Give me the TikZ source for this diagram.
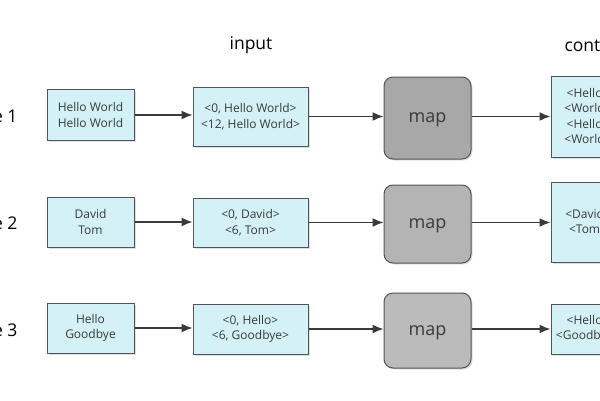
\documentclass[tikz,border=0pt]{standalone}
\usepackage{fontspec}
\setmainfont{Open Sans}
\usetikzlibrary{arrows.meta,shadows}
\definecolor{boxfill}{HTML}{D3F1F6}
\definecolor{edgegray}{HTML}{4F5558}
\definecolor{txtgray}{HTML}{3A3A3A}
\definecolor{mapdark}{HTML}{A8A8A8}
\definecolor{mapmid}{HTML}{B4B4B4}
\definecolor{maplight}{HTML}{BBBBBB}
\begin{document}
\begin{tikzpicture}[x=1pt,y=-1pt,
    databox/.style={draw=edgegray, line width=1pt, fill=boxfill, align=center,
        text=txtgray, inner sep=0pt, font=\fontsize{12}{15.5}\selectfont,
        drop shadow={shadow xshift=1.5pt, shadow yshift=-1.5pt, opacity=.25}},
    mapbox/.style={draw=edgegray, line width=1pt, rounded corners=9pt,
        text=txtgray, inner sep=0pt, minimum width=87pt, text depth=0pt,
        font=\fontsize{18}{20}\selectfont,
        drop shadow={shadow xshift=1.5pt, shadow yshift=-1.5pt, opacity=.25}},
    heading/.style={font=\fontsize{17.5}{20}\selectfont, text=black},
    flow/.style={-{Latex[length=11pt,width=9pt]}, line width=1.5pt, draw=txtgray}]
    \clip (0,0) rectangle (600,400);
    \fill[white] (0,0) rectangle (600,400);
    % headings
    \node[heading] (input) at (251,45) {input};
    \node[heading, anchor=west] (context) at (561,46) {context};
    \node[heading, anchor=east] (file1) at (21,116) {File 1};
    \node[heading, anchor=east] (file2) at (21,223) {File 2};
    \node[heading, anchor=east] (file3) at (21,330) {File 3};
    % row 1
    \node[databox, minimum width=87pt, minimum height=51pt] (text1) at (90.5,115) {Hello World\\Hello World};
    \node[databox, minimum width=115pt, minimum height=59pt] (pair1) at (250.5,116.5) {<0, Hello World>\\<12, Hello World>};
    \node[mapbox, fill=mapdark, minimum height=82pt] (map1) at (427.5,118) {map};
    \node[databox, minimum width=87pt, minimum height=81pt] (out1) at (594.5,116.5) {<Hello, 1>\\<World, 1>\\<Hello, 1>\\<World, 1>};
    % row 2
    \node[databox, minimum width=87pt, minimum height=50pt] (text2) at (90.5,222) {David\\Tom};
    \node[databox, minimum width=115pt, minimum height=49pt] (pair2) at (250.5,222.5) {<0, David>\\<6, Tom>};
    \node[mapbox, fill=mapmid, minimum height=78pt] (map2) at (427.5,224) {map};
    \node[databox, minimum width=87pt, minimum height=80pt] (out2) at (594.5,222) {<David, 1>\\<Tom, 1>};
    % row 3
    \node[databox, minimum width=87pt, minimum height=50pt] (text3) at (90.5,328) {Hello\\Goodbye};
    \node[databox, minimum width=115pt, minimum height=50pt] (pair3) at (250.5,329) {<0, Hello>\\<6, Goodbye>};
    \node[mapbox, fill=maplight, minimum height=75pt] (map3) at (427.5,330.5) {map};
    \node[databox, minimum width=87pt, minimum height=50pt] (out3) at (594.5,329) {<Hello, 1>\\<Goodbye, 1>};
    % arrows
    \draw[flow] (text1.east) -- (text1.east -| pair1.west);
    \draw[flow] (pair1.east) -- (pair1.east -| map1.west);
    \draw[flow] (map1.east |- pair1.east) -- (map1.east |- pair1.east -| out1.west);
    \draw[flow] (text2.east) -- (text2.east -| pair2.west);
    \draw[flow] (pair2.east) -- (pair2.east -| map2.west);
    \draw[flow] (map2.east |- pair2.east) -- (map2.east |- pair2.east -| out2.west);
    \draw[flow] (text3.east) -- (text3.east -| pair3.west);
    \draw[flow] (pair3.east) -- (pair3.east -| map3.west);
    \draw[flow] (map3.east |- pair3.east) -- (map3.east |- pair3.east -| out3.west);
\end{tikzpicture}
\end{document}
